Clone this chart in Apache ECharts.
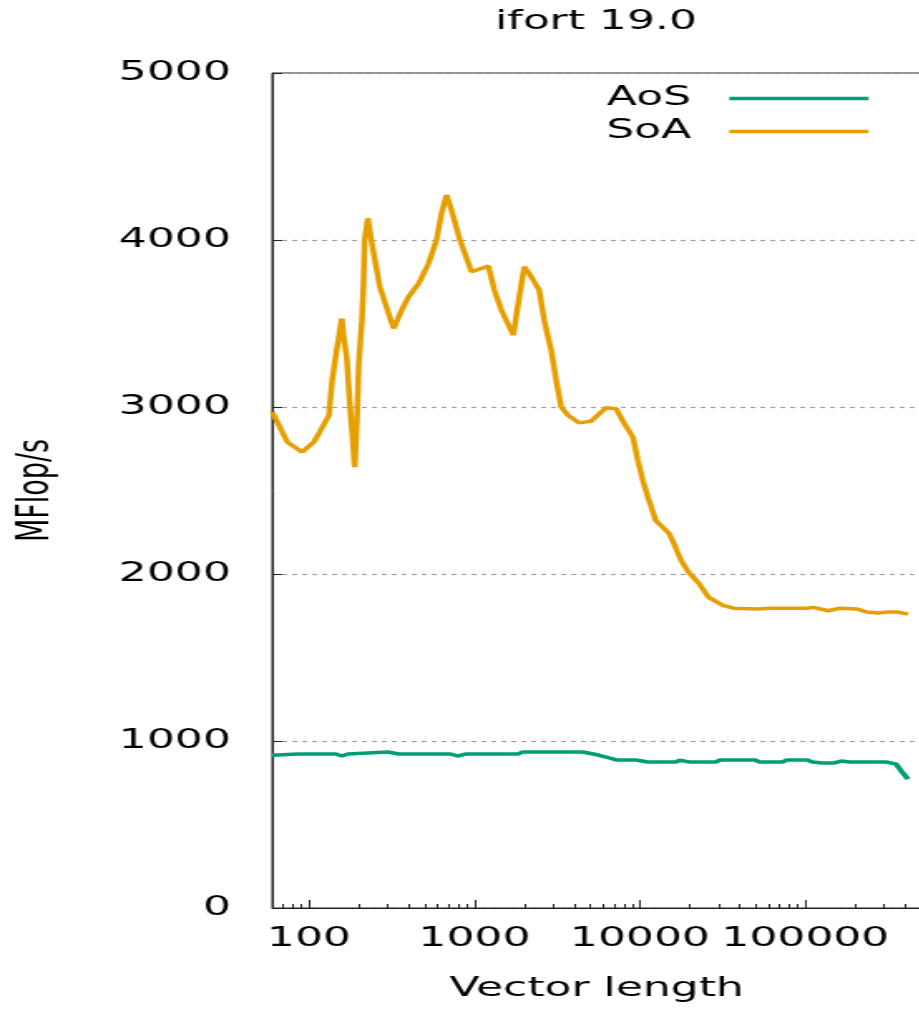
<!DOCTYPE html>
<html>
<head>
<meta charset="utf-8">
<script src="https://cdn.jsdelivr.net/npm/echarts@6/dist/echarts.min.js"></script>
<style>
	html, body { margin: 0; padding: 0; background: #fff; overflow: hidden; width: 919px; height: 1009px; }
	/* the gnuplot picture is stretched sideways, so the chart is drawn narrow and widened */
	#chart { position: absolute; left: 0; top: 0; width: 718px; height: 1009px; transform: scaleX(1.66); transform-origin: 0 0; }
</style>
</head>
<body>
<div id="chart"></div>
<script>
	const seriesNames = ["AoS", "SoA"];

	// AoS: vector length / MFlop/s
	const aosLen = [60, 86, 145, 158, 172, 299, 349, 716, 790, 882, 1841, 1946, 4541, 5587, 6243, 7268, 9455, 11175, 16480, 17420, 20000, 28700, 30340, 50000, 52850, 72690, 76870, 102800, 110200, 126500, 147500, 164800, 184200, 312000, 353300, 384000, 417400];
	const aosMflops = [915, 922, 922, 910, 922, 934, 922, 922, 910, 922, 922, 934, 934, 916, 904, 886, 886, 874, 874, 886, 874, 874, 886, 886, 874, 874, 886, 886, 874, 868, 868, 880, 874, 874, 862, 814, 772];

	// SoA: vector length / MFlop/s
	const soaLen = [60, 74, 91, 107, 116, 132, 138, 147, 158, 162, 169, 177, 182, 189, 195, 200, 209, 214, 217, 227, 240, 268, 303, 325, 363, 400, 460, 528, 590, 633, 678, 727, 812, 959, 1102, 1214, 1320, 1455, 1718, 1867, 2001, 2205, 2464, 2641, 2911, 3119, 3343, 3684, 4291, 5068, 6241, 7168, 8009, 9074, 9727, 10425, 11175, 12486, 14953, 16025, 17660, 19733, 22668, 26051, 32063, 36842, 51380, 61529, 102800, 111740, 137600, 162500, 205700, 236300, 275300, 316200, 363200, 417400];
	const soaMflops = [2970, 2790, 2730, 2790, 2850, 2950, 3160, 3340, 3530, 3420, 3300, 3000, 2860, 2640, 2920, 3260, 3520, 3760, 4000, 4130, 3980, 3720, 3560, 3470, 3580, 3660, 3740, 3860, 4000, 4160, 4270, 4180, 4010, 3810, 3830, 3845, 3700, 3580, 3430, 3660, 3840, 3780, 3700, 3520, 3340, 3160, 3000, 2950, 2905, 2915, 2995, 2990, 2905, 2820, 2680, 2560, 2460, 2320, 2245, 2185, 2085, 2010, 1945, 1860, 1810, 1795, 1790, 1795, 1795, 1800, 1780, 1795, 1790, 1772, 1766, 1772, 1772, 1760];

	const xRange = [60, 500000];
	const yRange = [0, 5000];
	const yStep = 1000;

	const font = "DejaVu Sans";
	const fontSize = 26.5;

	const pairs = (xs, ys) => xs.map((x, i) => [x, ys[i]]);
	const plain = v => String(Math.round(v));

	const chart = echarts.init(document.getElementById("chart"), null, { renderer: "canvas" });

	const option = {
		animation: false,
		title: {
			text: "ifort 19.0",
			left: "center",
			top: 4,
			textStyle: { fontFamily: font, fontSize: fontSize, fontWeight: "normal", color: "#000" }
		},
		legend: {
			data: seriesNames,
			orient: "vertical",
			right: 189.7,
			top: 80,
			align: "right",
			icon: "rect",
			itemWidth: 84,
			itemHeight: 3.5,
			itemGap: 6,
			textStyle: { fontFamily: font, fontSize: fontSize, color: "#000", lineHeight: 27, padding: [0, 18, 0, 0] }
		},
		grid: {
			left: 162.7,
			right: 163.2,
			top: 73,
			bottom: 101,
			show: true,
			borderColor: "#222",
			borderWidth: 1
		},
		xAxis: {
			type: "log",
			logBase: 10,
			min: xRange[0],
			max: xRange[1],
			name: "Vector length",
			nameLocation: "middle",
			nameGap: 68,
			nameTextStyle: { fontFamily: font, fontSize: fontSize, color: "#000" },
			axisLine: { show: true, lineStyle: { color: "#222", width: 1 } },
			axisTick: { show: true, inside: true, length: 8, lineStyle: { color: "#222" } },
			minorTick: { show: true, splitNumber: 9, length: 4, lineStyle: { color: "#222" } },
			splitLine: { show: false },
			axisLabel: {
				fontFamily: font,
				fontSize: fontSize,
				color: "#000",
				margin: 18,
				showMinLabel: false,
				showMaxLabel: false,
				formatter: plain
			}
		},
		yAxis: {
			type: "value",
			min: yRange[0],
			max: yRange[1],
			interval: yStep,
			name: "MFlop/s",
			nameLocation: "middle",
			nameGap: 129,
			nameTextStyle: { fontFamily: font, fontSize: 27, color: "#000" },
			axisLine: { show: true, lineStyle: { color: "#222", width: 1 } },
			axisTick: { show: true, inside: true, length: 6, lineStyle: { color: "#222" } },
			splitLine: { show: true, lineStyle: { color: "#a0a0a0", width: 1.2, type: [3, 3] } },
			axisLabel: { fontFamily: font, fontSize: fontSize, color: "#000", margin: 25, formatter: plain }
		},
		series: [
			{
				name: seriesNames[0],
				type: "line",
				symbol: "none",
				data: pairs(aosLen, aosMflops),
				lineStyle: { color: "#009e73", width: 3.5 },
				itemStyle: { color: "#009e73" }
			},
			{
				name: seriesNames[1],
				type: "line",
				symbol: "none",
				data: pairs(soaLen, soaMflops),
				lineStyle: { color: "#e69f00", width: 3.5 },
				itemStyle: { color: "#e69f00" }
			}
		]
	};

	chart.setOption(option);
</script>
</body>
</html>
